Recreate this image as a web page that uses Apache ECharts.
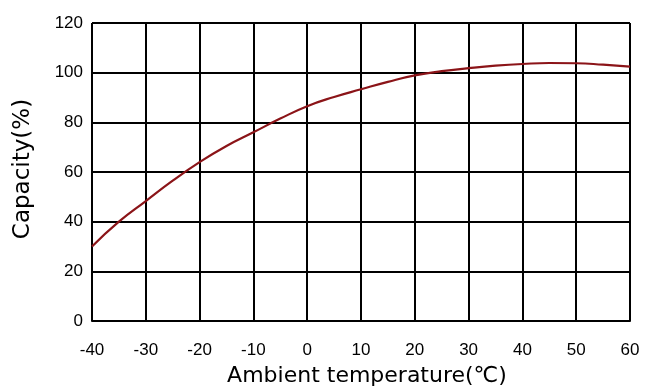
<!DOCTYPE html>
<html>
<head>
<meta charset="utf-8">
<script src="https://cdn.jsdelivr.net/npm/echarts@6/dist/echarts.min.js"></script>
<style>
  html, body { margin: 0; padding: 0; background: #fff; }
  #chart { width: 646px; height: 392px; }
</style>
</head>
<body>
<div id="chart"></div>
<script>
// temperature (°C) vs capacity (%)
var temps = [-40, -35, -30, -25, -20, -15, -10, -5, 0, 5, 10, 15, 20, 25, 30, 35, 40, 45, 50, 55, 60];
var capacity = [30, 40, 48.3, 56.5, 64, 70.5, 76, 81.5, 86.5, 90.2, 93.3, 96.3, 98.9, 100.6, 101.8, 102.8, 103.5, 103.9, 103.8, 103.2, 102.4];

var points = [];
for (var i = 0; i < temps.length; i++) {
  points.push([temps[i], capacity[i]]);
}

var chart = echarts.init(document.getElementById('chart'));
var font = 'Liberation Sans, Arial, sans-serif';
var nameFont = 'DejaVu Sans, sans-serif';

chart.setOption({
  animation: false,
  grid: { left: 92, top: 23, width: 538, height: 298 },
  xAxis: {
    type: 'value',
    min: -40,
    max: 60,
    interval: 10,
    name: 'Ambient temperature(℃)',
    nameLocation: 'middle',
    nameGap: 44,
    nameTextStyle: { color: '#000', fontSize: 22, fontFamily: nameFont, padding: [0, 0, 0, 12] },
    axisLine: { show: true, lineStyle: { color: '#000', width: 2 } },
    axisTick: { show: false },
    axisLabel: { color: '#000', fontSize: 17, fontFamily: font, margin: 21 },
    splitLine: { show: true, lineStyle: { color: '#000', width: 2 } }
  },
  yAxis: {
    type: 'value',
    min: 0,
    max: 120,
    interval: 20,
    name: 'Capacity(%)',
    nameLocation: 'middle',
    nameGap: 57,
    nameTextStyle: { color: '#000', fontSize: 23, fontFamily: nameFont, padding: [0, 0, 0, 6] },
    axisLine: { show: true, lineStyle: { color: '#000', width: 2 } },
    axisTick: { show: false },
    axisLabel: { color: '#000', fontSize: 17, fontFamily: font, margin: 9 },
    splitLine: { show: true, lineStyle: { color: '#000', width: 2 } }
  },
  series: [{
    type: 'line',
    data: points,
    smooth: true,
    showSymbol: false,
    lineStyle: { color: '#8b1418', width: 2.2 },
    itemStyle: { color: '#8b1418' }
  }]
});
</script>
</body>
</html>
